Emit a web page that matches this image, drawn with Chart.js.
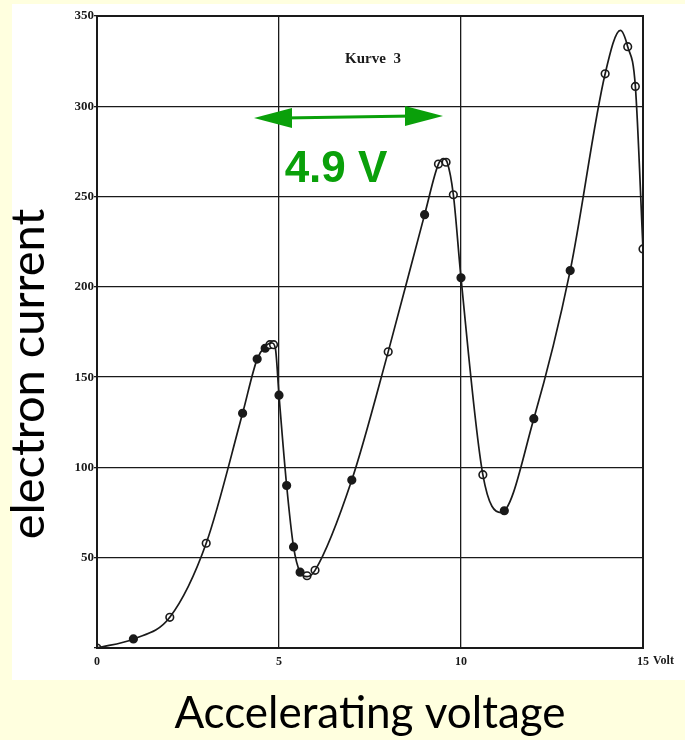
<!DOCTYPE html>
<html>
<head>
<meta charset="utf-8">
<script src="https://cdn.jsdelivr.net/npm/chart.js@4"></script>
<style>
  html, body { margin: 0; padding: 0; background: #ffffdf; }
  #wrap { width: 685px; height: 740px; position: relative; }
</style>
</head>
<body>
<div id="wrap"><canvas id="chart"></canvas></div>
<script>
// measured points (Franck-Hertz, Kurve 3)
const voltage = [0, 1, 2, 3, 4, 4.4, 4.62, 4.75, 4.85, 5, 5.21, 5.4, 5.58, 5.77, 5.99, 7, 8, 9, 9.38, 9.59, 9.79, 10, 10.6, 11.19, 12, 13, 13.96, 14.58, 14.79, 15];
const current = [0, 5, 17, 58, 130, 160, 166, 168, 168, 140, 90, 56, 42, 40, 43, 93, 164, 240, 268, 269, 251, 205, 96, 76, 127, 209, 318, 333, 311, 221];
const openMarker = [1, 0, 1, 1, 0, 0, 0, 1, 1, 0, 0, 0, 0, 1, 1, 0, 1, 0, 1, 1, 1, 0, 1, 0, 0, 0, 1, 1, 1, 1];

// drawn curve
const curveV = [0, 1, 2, 3, 4, 4.4, 4.62, 4.8, 4.9, 5, 5.21, 5.4, 5.58, 5.77, 5.99, 7, 8, 9, 9.38, 9.52, 9.62, 9.79, 10, 10.6, 11.1, 12, 13, 13.96, 14.38, 14.58, 14.79, 15];
const curveI = [0, 5, 17, 58, 130, 160, 167, 169, 166, 140, 90, 56, 42, 39.5, 43, 93, 164, 240, 268, 271, 269, 251, 205, 96, 75, 127, 209, 318, 342, 333, 311, 221];

const xTicks = [0, 5, 10, 15];
const yTicks = [0, 50, 100, 150, 200, 250, 300, 350];

const ink = "#1a1a1a";
const green = "#0aa00a";

const extras = {
  id: "extras",
  beforeDraw(c) {
    const ctx = c.ctx;
    ctx.save();
    ctx.fillStyle = "#ffffdf";
    ctx.fillRect(0, 0, c.width, c.height);
    ctx.fillStyle = "#ffffff";
    ctx.fillRect(12, 4, 673, 676);
    ctx.restore();
  },
  afterDraw(c) {
    const ctx = c.ctx;
    const x = c.scales.x;
    ctx.save();
    // frame
    ctx.strokeStyle = ink;
    ctx.lineWidth = 2;
    ctx.strokeRect(c.chartArea.left, c.chartArea.top, c.chartArea.right - c.chartArea.left, c.chartArea.bottom - c.chartArea.top);

    // "Volt" after the 15 label
    ctx.fillStyle = ink;
    ctx.font = "bold 12px 'Liberation Serif'";
    ctx.textBaseline = "middle";
    ctx.textAlign = "left";
    ctx.fillText("Volt", x.getPixelForValue(15) + 10, 661);

    ctx.font = "bold 15px 'Liberation Serif'";
    ctx.textAlign = "center";
    ctx.fillText("Kurve  3", 373, 59);

    // 4.9 V arrow
    const x1 = 254, y1 = 118, x2 = 443, y2 = 116;
    ctx.strokeStyle = green;
    ctx.fillStyle = green;
    ctx.lineWidth = 3;
    ctx.beginPath();
    ctx.moveTo(x1 + 30, y1);
    ctx.lineTo(x2 - 30, y2);
    ctx.stroke();
    ctx.beginPath();
    ctx.moveTo(x1, y1);
    ctx.lineTo(x1 + 38, y1 - 10);
    ctx.lineTo(x1 + 38, y1 + 10);
    ctx.closePath();
    ctx.fill();
    ctx.beginPath();
    ctx.moveTo(x2, y2);
    ctx.lineTo(x2 - 38, y2 - 10);
    ctx.lineTo(x2 - 38, y2 + 10);
    ctx.closePath();
    ctx.fill();

    ctx.font = "bold 44px Arial, 'Liberation Sans'";
    ctx.textAlign = "center";
    ctx.textBaseline = "alphabetic";
    ctx.fillText("4.9 V", 336, 182);

    // y axis title
    ctx.fillStyle = "#000";
    ctx.font = "47px Lato";
    ctx.translate(44, 374);
    ctx.rotate(-Math.PI / 2);
    ctx.textAlign = "center";
    ctx.textBaseline = "alphabetic";
    ctx.fillText("electron current", 0, 0);
    ctx.restore();
  }
};

new Chart(document.getElementById("chart"), {
  type: "scatter",
  data: {
    datasets: [
      {
        label: "curve",
        type: "line",
        data: curveV.map((v, i) => ({ x: v, y: curveI[i] })),
        borderColor: ink,
        borderWidth: 1.7,
        pointRadius: 0,
        cubicInterpolationMode: "monotone",
        fill: false
      },
      {
        label: "measured",
        data: voltage.map((v, i) => ({ x: v, y: current[i] })),
        pointRadius: 3.8,
        pointBorderWidth: 1.6,
        pointBorderColor: ink,
        pointBackgroundColor: openMarker.map(o => o ? "#ffffff" : ink)
      }
    ]
  },
  options: {
    responsive: true,
    maintainAspectRatio: false,
    animation: false,
    layout: { padding: { left: 0, top: 16, right: 42, bottom: 0 } },
    plugins: { legend: { display: false }, tooltip: { enabled: false } },
    scales: {
      x: {
        type: "linear",
        min: 0, max: 15,
        afterBuildTicks: s => { s.ticks = xTicks.map(v => ({ value: v })); },
        afterFit: s => { s.height = 92; },
        grid: { color: ink, lineWidth: 1.3, drawTicks: false },
        border: { display: false },
        ticks: {
          color: ink,
          padding: 7,
          font: { family: "'Liberation Serif'", weight: "bold", size: 12 }
        },
        title: {
          display: true,
          text: "Accelerating voltage",
          color: "#000",
          font: { family: "Lato", size: 44, lineHeight: 1.2 },
          padding: { top: 0, bottom: 0 }
        }
      },
      y: {
        type: "linear",
        min: 0, max: 350,
        afterBuildTicks: s => { s.ticks = yTicks.map(v => ({ value: v })); },
        afterFit: s => { s.width = 97; },
        grid: { color: ink, lineWidth: 1.3, drawTicks: true, tickLength: 3 },
        border: { display: false },
        ticks: {
          color: ink,
          padding: 0,
          callback: v => v === 0 ? "" : v,
          font: { family: "'Liberation Serif'", weight: "bold", size: 13 }
        }
      }
    }
  },
  plugins: [extras]
});
</script>
</body>
</html>
